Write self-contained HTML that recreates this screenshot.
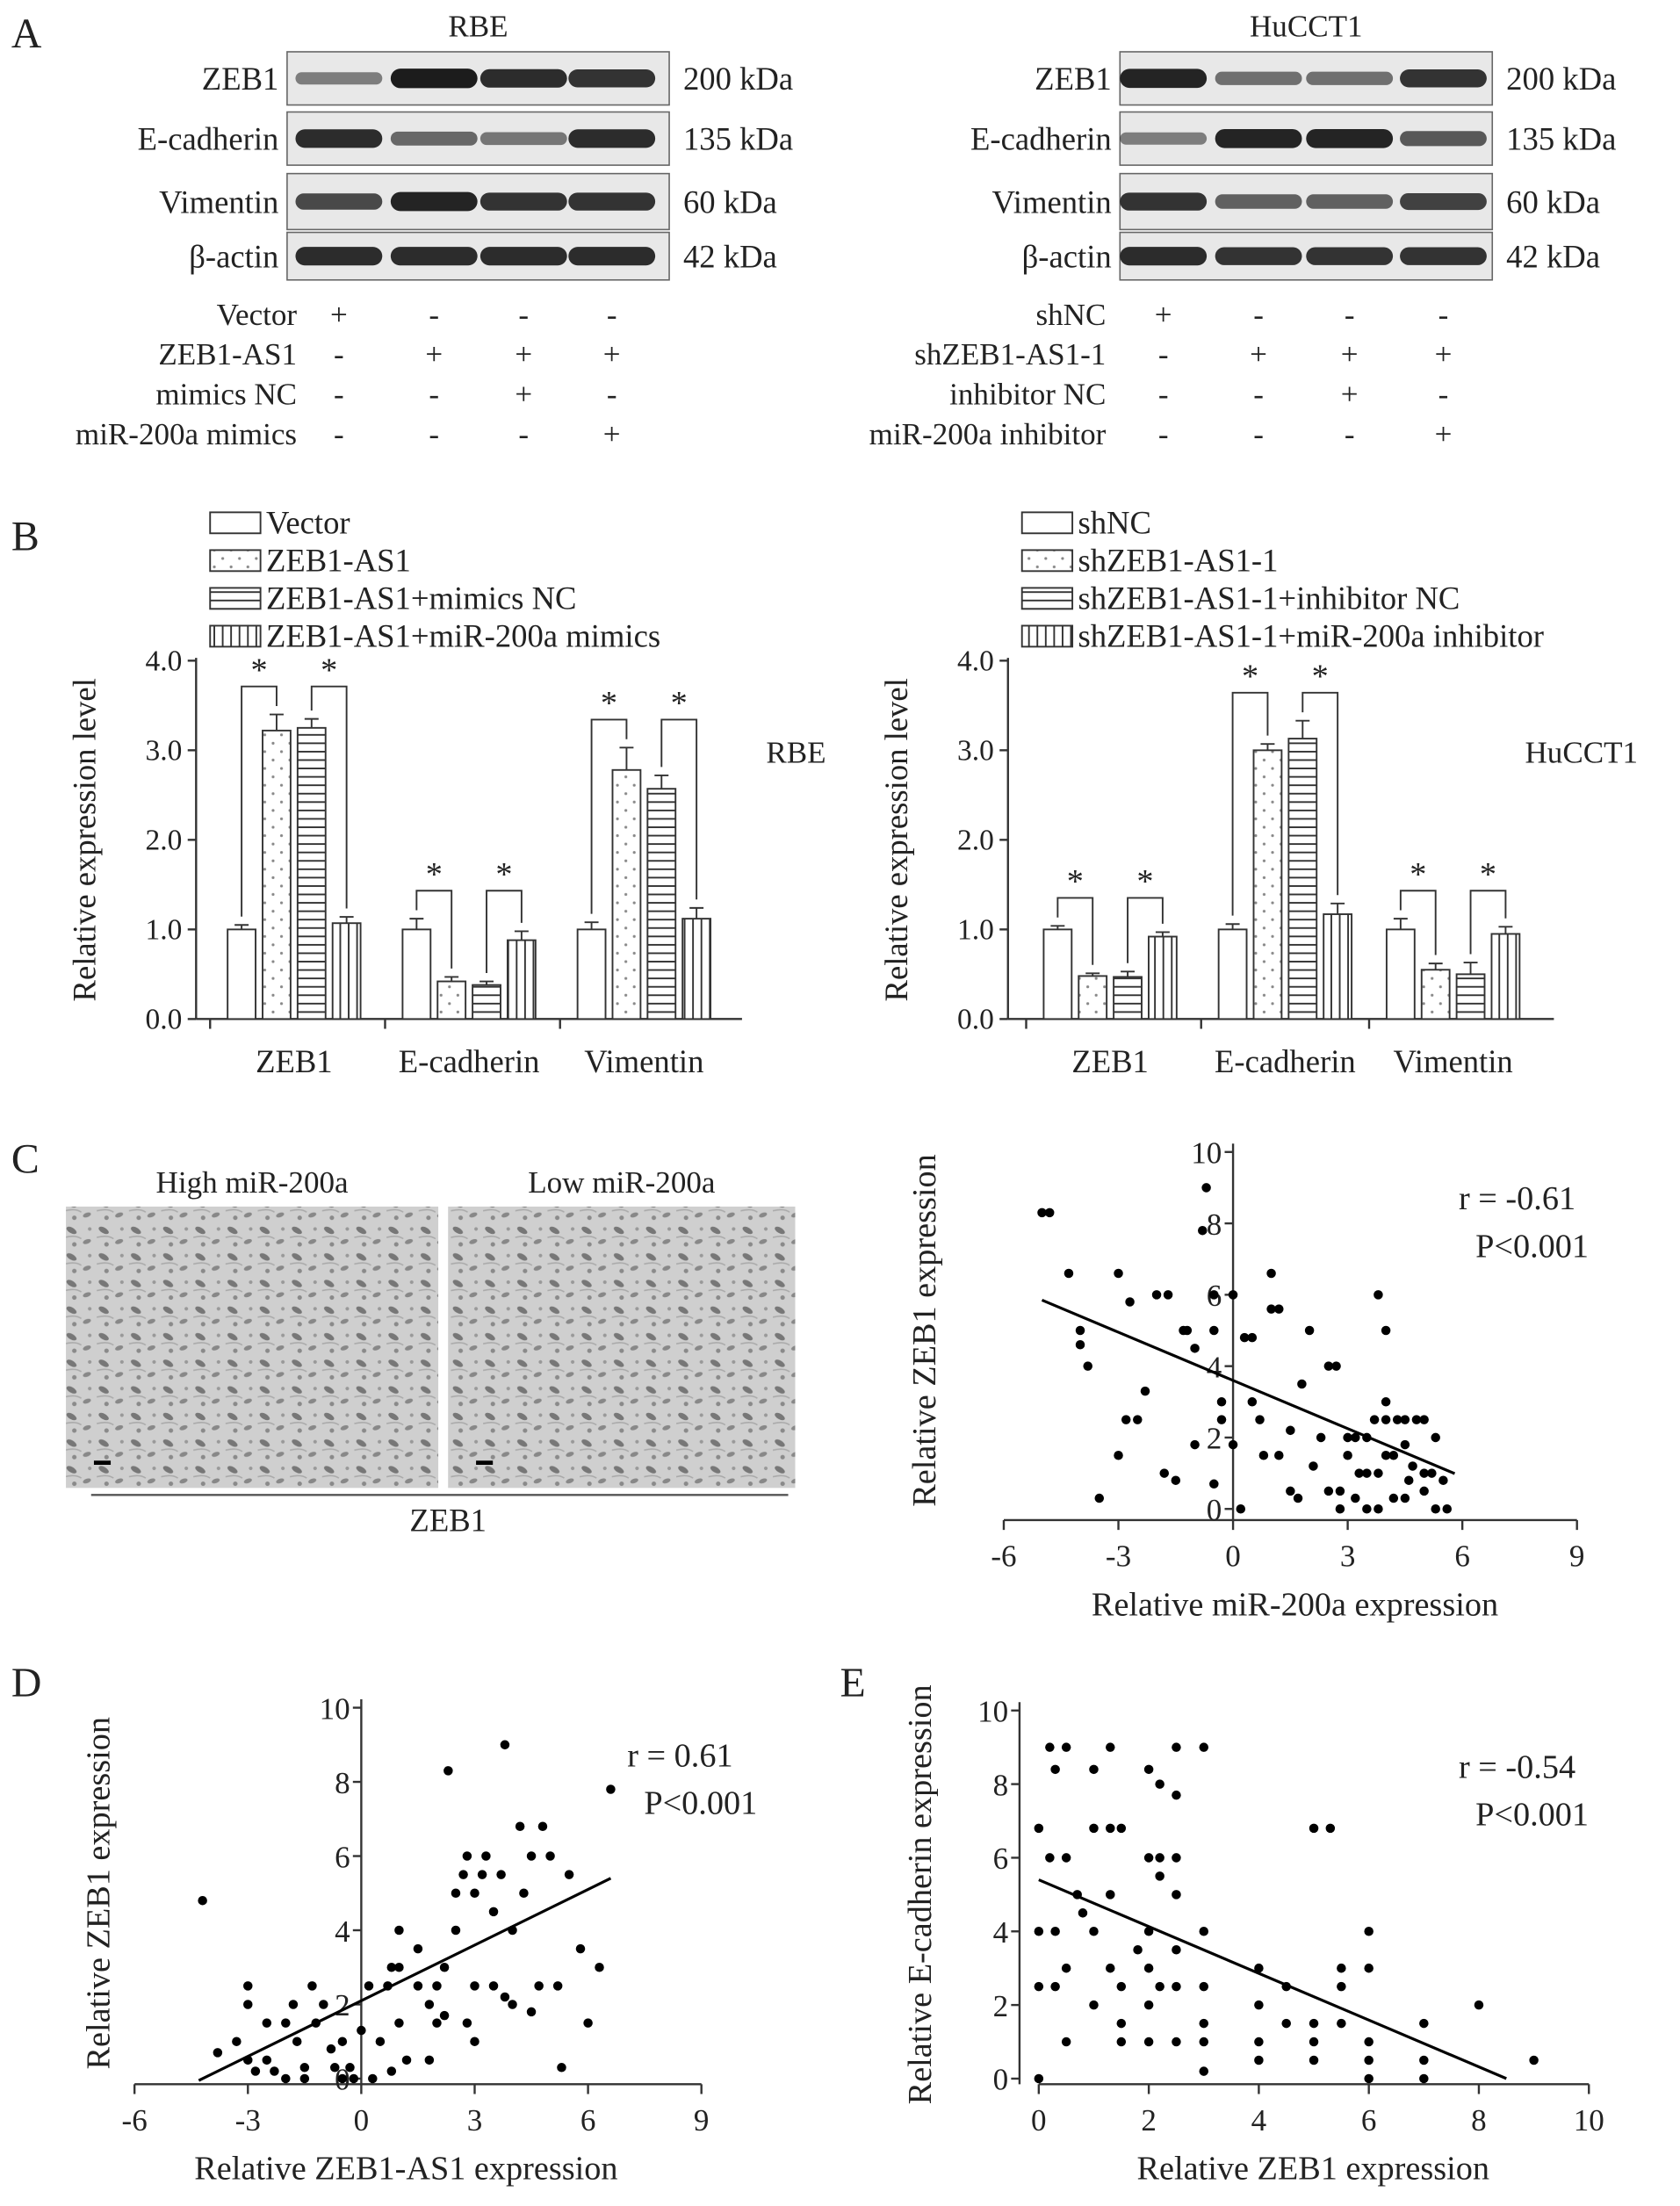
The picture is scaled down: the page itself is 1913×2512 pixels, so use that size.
<!DOCTYPE html>
<html><head><meta charset="utf-8"><style>
html,body{margin:0;padding:0;background:#fff}
svg{display:block}
text{font-family:"Liberation Serif",serif;fill:#222}
</style></head><body>
<svg id="fig" width="1913" height="2512" viewBox="0 0 1200 1576" xmlns="http://www.w3.org/2000/svg">
<defs>
<pattern id="dots" width="12" height="12" patternUnits="userSpaceOnUse"><rect width="12" height="12" fill="#fff"/><circle cx="3" cy="3" r="1" fill="#888"/><circle cx="9" cy="9" r="1" fill="#888"/></pattern>
<pattern id="hl" width="10" height="6" patternUnits="userSpaceOnUse"><rect width="10" height="6" fill="#fff"/><line x1="0" y1="3" x2="10" y2="3" stroke="#333" stroke-width="1.2"/></pattern>
<pattern id="vl" width="6" height="10" patternUnits="userSpaceOnUse"><rect width="6" height="10" fill="#fff"/><line x1="3" y1="0" x2="3" y2="10" stroke="#333" stroke-width="1.2"/></pattern>
<pattern id="tissue" width="23" height="19" patternUnits="userSpaceOnUse"><rect width="23" height="19" fill="#cfcfcf"/><ellipse cx="5" cy="5" rx="4" ry="2" fill="#777" transform="rotate(30 5 5)"/><ellipse cx="16" cy="13" rx="3" ry="1.6" fill="#888" transform="rotate(-20 16 13)"/><circle cx="18" cy="4" r="1.3" fill="#999"/><circle cx="7" cy="15" r="1.6" fill="#8a8a8a"/><path d="M0 10 Q8 8 12 11" stroke="#aaa" fill="none"/></pattern>
</defs>
</svg>
<script>
const svg=document.getElementById('fig');
const NS='http://www.w3.org/2000/svg';
function el(tag,attrs,parent){const e=document.createElementNS(NS,tag);for(const k in attrs)e.setAttribute(k,attrs[k]);(parent||svg).appendChild(e);return e;}
function txt(x,y,s,size,anchor,name,extra){const t=el('text',Object.assign({x:x,y:y,'font-size':size,'text-anchor':anchor||'start'},extra||{}));t.textContent=s;


return t;}

// ---------- Panel A ----------
const blotRows=['ZEB1','E-cadherin','Vimentin','β-actin'];
const blotKDa=['200 kDa','135 kDa','60 kDa','42 kDa'];
const blotRowY=[37,80,124,166];
const blotRowH=[38,38,40,34];
const rbeBand=[[0.35,1,0.9,0.85],[0.9,0.5,0.4,0.9],[0.7,0.95,0.85,0.85],[0.9,0.9,0.9,0.9]];
const hucBand=[[0.95,0.45,0.45,0.85],[0.35,0.95,0.95,0.6],[0.85,0.55,0.55,0.75],[0.9,0.85,0.85,0.85]];
const rbeTreat=['Vector','ZEB1-AS1','mimics NC','miR-200a mimics'];
const rbeSigns=[['+','-','-','-'],['-','+','+','+'],['-','-','+','-'],['-','-','-','+']];
const hucTreat=['shNC','shZEB1-AS1-1','inhibitor NC','miR-200a inhibitor'];
const hucSigns=rbeSigns;
txt(8,34,'A',30,'start','panel-label-a');
function blotPanel(title,bx,bw,lanes,bands,labelX,treat,signs,prefix){
  txt(bx+bw/2,26,title,22,'middle',prefix+'-title');
  blotRows.forEach((r,i)=>{
    const y=blotRowY[i],h=blotRowH[i];
    const box=el('rect',{x:bx,y:y,width:bw,height:h,fill:'#e8e8e8',stroke:'#666','stroke-width':1});
    
    
    lanes.forEach((lx,j)=>{
      const v=bands[i][j];
      const bh=6+8*v;
      const b=el('rect',{x:lx-31,y:y+h/2-bh/2,width:62,height:bh,rx:bh/2,fill:'#111','fill-opacity':0.25+0.7*v});
      
      
    });
    txt(bx-6,y+h/2+8,r,23,'end',prefix+'-row-label');
    txt(bx+bw+10,y+h/2+8,blotKDa[i],23,'start',prefix+'-kda-label');
  });
  treat.forEach((t,i)=>{
    const y=232+i*28.5;
    txt(labelX,y,t,22,'end',prefix+'-treatment-label');
    lanes.forEach((lx,j)=>txt(lx,y,signs[i][j],22,'middle',prefix+'-sign'));
  });
}
blotPanel('RBE',205,273,[242,310,374,437],rbeBand,212,rbeTreat,rbeSigns,'rbe');
blotPanel('HuCCT1',800,266,[831,899,964,1031],hucBand,790,hucTreat,hucSigns,'huc');

// ---------- Panel B ----------
txt(8,393,'B',30,'start','panel-label-b');
const groups=['ZEB1','E-cadherin','Vimentin'];
const yTicks=['0.0','1.0','2.0','3.0','4.0'];
const rbeLegend=['Vector','ZEB1-AS1','ZEB1-AS1+mimics NC','ZEB1-AS1+miR-200a mimics'];
const rbeVals=[[1.0,3.22,3.25,1.07],[1.0,0.42,0.38,0.88],[1.0,2.78,2.57,1.12]];
const rbeErr=[[0.05,0.18,0.1,0.07],[0.12,0.05,0.04,0.1],[0.08,0.25,0.15,0.12]];
const hucLegend=['shNC','shZEB1-AS1-1','shZEB1-AS1-1+inhibitor NC','shZEB1-AS1-1+miR-200a inhibitor'];
const hucVals=[[1.0,0.48,0.47,0.92],[1.0,3.0,3.13,1.17],[1.0,0.55,0.5,0.95]];
const hucErr=[[0.04,0.03,0.06,0.05],[0.06,0.07,0.2,0.12],[0.12,0.07,0.13,0.08]];
const fills=['#fff','url(#dots)','url(#hl)','url(#vl)'];
function barChart(ax,groupX,vals,errs,legend,cellName,lx,prefix){
  const y0=728,unit=64;
  const Y=v=>y0-v*unit;
  el('line',{x1:ax,y1:Y(4)-2,x2:ax,y2:y0,stroke:'#333','stroke-width':1.5});
  el('line',{x1:ax,y1:y0,x2:ax+390,y2:y0,stroke:'#333','stroke-width':1.5});
  yTicks.forEach((t,i)=>{const v=parseFloat(t);el('line',{x1:ax-6,y1:Y(v),x2:ax,y2:Y(v),stroke:'#333','stroke-width':1.5});txt(ax-10,Y(v)+7,t,21,'end',prefix+'-y-tick');});
  for(let i=0;i<groups.length;i++){
    const gx=groupX[i];
    el('line',{x1:gx-60,y1:y0,x2:gx-60,y2:y0+7,stroke:'#333','stroke-width':1.5});
    txt(gx,y0+38,groups[i],23,'middle',prefix+'-x-label');
    const centers=[gx-37.5,gx-12.5,gx+12.5,gx+37.5];
    vals[i].forEach((v,j)=>{
      const cx=centers[j],top=Y(v);
      const r=el('rect',{x:cx-10,y:top,width:20,height:y0-top,fill:fills[j],stroke:'#333','stroke-width':1.2});
      
      
      const e=Y(v+errs[i][j]);
      el('line',{x1:cx,y1:top,x2:cx,y2:e,stroke:'#333','stroke-width':1.2});
      el('line',{x1:cx-5,y1:e,x2:cx+5,y2:e,stroke:'#333','stroke-width':1.2});
    });
    const pairs=[[0,1],[2,3]];
    pairs.forEach(p=>{
      const a=centers[p[0]],b=centers[p[1]];
      const top=Math.max(vals[i][0]+errs[i][0],vals[i][1]+errs[i][1],vals[i][2]+errs[i][2],vals[i][3]+errs[i][3]);
      const by=Y(top)-20;
      const ya=Y(vals[i][p[0]]+errs[i][p[0]])-6,yb=Y(vals[i][p[1]]+errs[i][p[1]])-6;
      el('polyline',{points:`${a},${ya} ${a},${by} ${b},${by} ${b},${yb}`,fill:'none',stroke:'#333','stroke-width':1.2});
      txt((a+b)/2,by-4,'*',24,'middle',prefix+'-sig-star');
    });
  }
  txt(0,0,'Relative expression level',23,'middle',prefix+'-y-title',{transform:`translate(${ax-72},600) rotate(-90)`});
  txt(ax+450,545,cellName,22,'end',prefix+'-cell-label');
  legend.forEach((s,i)=>{
    const y=366+i*27;
    const r=el('rect',{x:lx,y:y,width:36,height:15,fill:fills[i],stroke:'#333','stroke-width':1.2});
    
    
    txt(lx+40,y+15,s,23,'start',prefix+'-legend-entry');
  });
}
barChart(140,[210,335,460],rbeVals,rbeErr,rbeLegend,'RBE',150,'rbe');
barChart(720,[793,918,1038],hucVals,hucErr,hucLegend,'HuCCT1',730,'huc');

// ---------- Panel C images ----------
txt(8,838,'C',30,'start','panel-label-c');
[[47,266,'High miR-200a'],[320,248,'Low miR-200a']].forEach((d,i)=>{
  const r=el('rect',{x:d[0],y:862,width:d[1],height:201,fill:'url(#tissue)'});
  
  
  txt(d[0]+d[1]/2,852,d[2],22,'middle','image-title');
  el('line',{x1:d[0]+20,y1:1045,x2:d[0]+32,y2:1045,stroke:'#000','stroke-width':3});
});
el('line',{x1:65,y1:1068,x2:563,y2:1068,stroke:'#555','stroke-width':1.5});
txt(320,1094,'ZEB1',23,'middle','ihc-zeb1-label');

// ---------- Scatter plots ----------
const cX=[-5,-4.8,-4.3,-4,-4,-3.8,-3,-2.7,-2.5,-2.8,-3,-3.5,-2,-1.7,-1.3,-1.2,-1,-2.3,-0.7,-0.8,-0.5,-0.5,0,0.3,0.5,1,1.2,1,-0.3,-0.3,-0.5,-1.5,-1.8,0.5,0.7,0.8,1.2,0.2,1.5,1.8,2,2.3,2.5,2.7,3,3.2,3.5,3.7,3.8,4,4,4.3,4.5,4.8,5,5.3,3,3.3,3.5,3.8,4,4.2,4.5,4.7,5,5.2,5.5,2.8,3.2,3.5,3.8,4.2,4.5,5,5.3,5.6,1.7,2.5,2.8,-1,0,1.5,2.1,4,4.6];
const cY=[8.3,8.3,6.6,5,4.6,4,6.6,5.8,2.5,2.5,1.5,0.3,6,6,5,5,4.5,3.3,9,7.8,6,5,6,4.8,4.8,5.6,5.6,6.6,3,2.5,0.7,0.8,1,3,2.5,1.5,1.5,0,0.5,3.5,5,2,4,4,2,2,2,2.5,6,5,2.5,2.5,2.5,2.5,2.5,2,1.5,1,1,1,1.5,1.5,1.8,1.2,1,1,0.8,0.5,0.3,0,0,0.3,0.3,0.5,0,0,0.3,0.5,0,1.8,1.8,2.2,1.2,3,0.8];
const cFit=[3.6,-0.45];
const dX=[-4.2,-3.8,-3.3,-3,-3,-3,-2.8,-2.5,-2.3,-2,-2,-1.8,-1.7,-1.5,-1.2,-1.3,-1,-0.8,-0.7,-0.5,-0.5,-0.3,-0.2,0,0.2,0.3,0.5,0.7,0.8,1,1,1.2,1.5,1.5,1.8,2,2,2.2,2.3,2.5,2.5,2.7,2.8,3,3,3,3.2,3.3,3.5,3.5,3.7,3.8,4,4,4.2,4.3,4.5,4.7,4.8,5,5.2,5.3,5.5,5.8,6,6.3,6.6,1,1.8,2.8,3.8,4.5,-2.5,-1.5,0.8,2.2];
const dY=[4.8,0.7,1,2.5,2,0.5,0.2,0.5,0.2,0,1.5,2,1,0.3,1.5,2.5,2,0.8,0.3,0,1,0.3,0,1.3,2.5,0,1,2.5,3,3,1.5,0.5,2.5,3.5,2,1.5,2.5,3,8.3,5,4,5.5,6,2.5,1,5,5.5,6,4.5,2.5,5.5,9,4,2,6.8,5,6,2.5,6.8,6,2.5,0.3,5.5,3.5,1.5,3,7.8,4,0.5,1.5,2.2,1.8,1.5,0,0.2,1.7];
const dFit=[2.1,0.5];
const eX=[0,0,0,0,0.2,0.3,0.2,0.3,0.3,0.5,0.5,0.5,0.5,0.7,1,1,1,1,1.3,1.3,1.3,1.3,1.5,1.5,1.5,1.5,2,2,2,2,2,2,2.2,2.2,2.2,2.2,2.5,2.5,2.5,2.5,2.5,2.5,2.5,3,3,3,3,3,3,4,4,4,4,4.5,5,5,5,5,5.3,5.5,5.5,5.5,6,6,6,6,6,7,7,7,8,9,4.5,0.8,1.8];
const eY=[6.8,4,2.5,0,9,8.4,6,4,2.5,9,6,3,1,5,6.8,4,2,8.4,9,6.8,5,3,6.8,2.5,1.5,1,8.4,6,4,3,2,1,8,6,5.5,2.5,9,7.7,6,5,3.5,2.5,1,9,4,2.5,1.5,1,0.2,3,2,1,0.5,2.5,6.8,1.5,1,0.5,6.8,3,2.5,1.5,4,3,1,0,0.5,0.5,1.5,0,2,0.5,1.5,4.5,3.5];
const eFit=[5.4,-0.635];
const xTicksC=[-6,-3,0,3,6,9];
const yTicksS=[0,2,4,6,8,10];
const xTicksE=[0,2,4,6,8,10];

function scatter(o){
  const X=v=>o.x0+(v-o.xmin)*o.xu, Y=v=>o.y0-v*o.yu;
  const xa=X(o.yAxisAt);
  el('line',{x1:xa,y1:Y(10)-6,x2:xa,y2:Y(0)+o.gap,stroke:'#333','stroke-width':1.5});
  el('line',{x1:X(o.xt[0]),y1:Y(0)+o.gap,x2:X(o.xt[o.xt.length-1]),y2:Y(0)+o.gap,stroke:'#333','stroke-width':1.5});
  o.xt.forEach(t=>{el('line',{x1:X(t),y1:Y(0)+o.gap,x2:X(t),y2:Y(0)+o.gap+7,stroke:'#333','stroke-width':1.5});txt(X(t),Y(0)+o.gap+33,String(t),22,'middle',o.p+'-x-tick');});
  yTicksS.forEach(t=>{el('line',{x1:xa-6,y1:Y(t),x2:xa,y2:Y(t),stroke:'#333','stroke-width':1.5});txt(xa-8,Y(t)+8,String(t),22,'end',o.p+'-y-tick');});
  o.xs.forEach((v,i)=>{const c=el('circle',{cx:X(v),cy:Y(o.ys[i]),r:3.3,fill:'#000'});
    
    });
  const l=el('line',{x1:X(o.l0),y1:Y(o.fit[0]+o.fit[1]*o.l0),x2:X(o.l1),y2:Y(o.fit[0]+o.fit[1]*o.l1),stroke:'#000','stroke-width':2});
  
  
  txt(o.xc,Y(0)+o.gap+68,o.xtitle,24,'middle',o.p+'-x-title');
  txt(0,0,o.ytitle,24,'middle',o.p+'-y-title',{transform:`translate(${o.yx},${(Y(10)+Y(0))/2}) rotate(-90)`});
  txt(o.sx,o.sy,o.r,24,'start',o.p+'-r-value');
  txt(o.sx+12,o.sy+34,'P<0.001',24,'start',o.p+'-p-value');
}
scatter({p:'c',x0:717,xmin:-6,xu:27.3,y0:1078,yu:25.5,yAxisAt:0,gap:8,xt:xTicksC,xs:cX,ys:cY,fit:cFit,l0:-5,l1:5.8,xc:925,xtitle:'Relative miR-200a expression',ytitle:'Relative ZEB1 expression',yx:668,sx:1042,sy:864,r:'r = -0.61'});
scatter({p:'d',x0:96,xmin:-6,xu:27,y0:1485,yu:26.5,yAxisAt:0,gap:4,xt:xTicksC,xs:dX,ys:dY,fit:dFit,l0:-4.3,l1:6.6,xc:290,xtitle:'Relative ZEB1-AS1 expression',ytitle:'Relative ZEB1 expression',yx:78,sx:448,sy:1262,r:'r = 0.61'});
scatter({p:'e',x0:742,xmin:0,xu:39.3,y0:1485,yu:26.3,yAxisAt:-0.35,gap:4,xt:xTicksE,xs:eX,ys:eY,fit:eFit,l0:0,l1:8.5,xc:938,xtitle:'Relative ZEB1 expression',ytitle:'Relative E-cadherin expression',yx:665,sx:1042,sy:1270,r:'r = -0.54'});
txt(8,1212,'D',30,'start','panel-label-d');
txt(600,1212,'E',30,'start','panel-label-e');
</script>
</body></html>
